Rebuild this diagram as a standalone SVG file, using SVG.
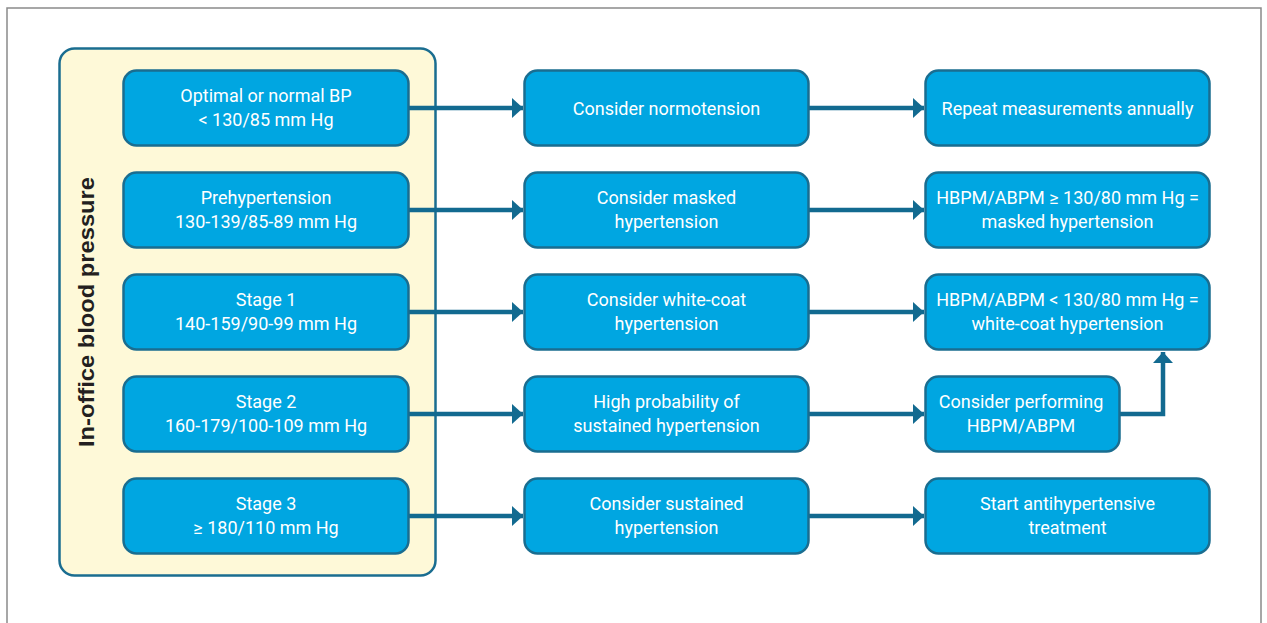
<svg xmlns="http://www.w3.org/2000/svg" width="1267" height="623" viewBox="0 0 1267 623">
  <style>
    .frame { fill: #ffffff; stroke: #8a8a8a; stroke-width: 1.5; }
    .panel { fill: #fef9d8; stroke: #1a6d90; stroke-width: 2.5; }
    .box { fill: #00a6e1; stroke: #1a6d90; stroke-width: 2.5; }
    .lbl { fill: #ffffff; font-family: Roboto, "Liberation Sans", sans-serif; font-size: 18px; text-anchor: middle; }
    .side { fill: #231f20; font-family: "Liberation Sans", Arial, sans-serif; font-weight: bold; font-size: 22px; text-anchor: middle; }
    .conn { fill: none; stroke: #126a90; stroke-width: 4.5; }
  </style>
  <defs>
    <marker id="head" markerUnits="userSpaceOnUse" markerWidth="12" markerHeight="22" refX="11" refY="10" orient="auto">
      <path d="M0,0 L11,10 L0,20 Z" fill="#126a90"/>
    </marker>
  </defs>

  <!-- page frame -->
  <rect class="frame" x="7" y="8" width="1254" height="640"/>

  <!-- in-office blood pressure panel -->
  <g id="panel">
    <rect class="panel" x="59.5" y="48.5" width="376" height="527" rx="15"/>
    <text class="side" transform="translate(94,312) rotate(-90)" textLength="270" lengthAdjust="spacingAndGlyphs">In-office blood pressure</text>
  </g>

  <!-- connectors -->
  <g id="connectors">
    <line class="conn" x1="409" y1="108" x2="523" y2="108" marker-end="url(#head)"/>
    <line class="conn" x1="809" y1="108" x2="924" y2="108" marker-end="url(#head)"/>
    <line class="conn" x1="409" y1="210" x2="523" y2="210" marker-end="url(#head)"/>
    <line class="conn" x1="809" y1="210" x2="924" y2="210" marker-end="url(#head)"/>
    <line class="conn" x1="409" y1="312" x2="523" y2="312" marker-end="url(#head)"/>
    <line class="conn" x1="809" y1="312" x2="924" y2="312" marker-end="url(#head)"/>
    <line class="conn" x1="409" y1="414" x2="523" y2="414" marker-end="url(#head)"/>
    <line class="conn" x1="809" y1="414" x2="924" y2="414" marker-end="url(#head)"/>
    <line class="conn" x1="409" y1="516" x2="523" y2="516" marker-end="url(#head)"/>
    <line class="conn" x1="809" y1="516" x2="924" y2="516" marker-end="url(#head)"/>
    <polyline class="conn" points="1120,414 1163,414 1163,352" marker-end="url(#head)"/>
  </g>

  <!-- in-office categories -->
  <g id="optimal">
    <rect class="box" x="123.5" y="70.5" width="285" height="75" rx="13"/>
    <text class="lbl" x="266" y="102">Optimal or normal BP</text>
    <text class="lbl" x="266" y="126">&lt; 130/85 mm Hg</text>
  </g>
  <g id="prehypertension">
    <rect class="box" x="123.5" y="172.5" width="285" height="75" rx="13"/>
    <text class="lbl" x="266" y="204">Prehypertension</text>
    <text class="lbl" x="266" y="228">130-139/85-89 mm Hg</text>
  </g>
  <g id="stage1">
    <rect class="box" x="123.5" y="274.5" width="285" height="75" rx="13"/>
    <text class="lbl" x="266" y="306">Stage 1</text>
    <text class="lbl" x="266" y="330">140-159/90-99 mm Hg</text>
  </g>
  <g id="stage2">
    <rect class="box" x="123.5" y="376.5" width="285" height="75" rx="13"/>
    <text class="lbl" x="266" y="408">Stage 2</text>
    <text class="lbl" x="266" y="432">160-179/100-109 mm Hg</text>
  </g>
  <g id="stage3">
    <rect class="box" x="123.5" y="478.5" width="285" height="75" rx="13"/>
    <text class="lbl" x="266" y="510">Stage 3</text>
    <text class="lbl" x="266" y="534">≥ 180/110 mm Hg</text>
  </g>

  <!-- interpretation -->
  <g id="normotension">
    <rect class="box" x="524.5" y="70.5" width="284" height="75" rx="13"/>
    <text class="lbl" x="666.5" y="115">Consider normotension</text>
  </g>
  <g id="masked">
    <rect class="box" x="524.5" y="172.5" width="284" height="75" rx="13"/>
    <text class="lbl" x="666.5" y="204">Consider masked</text>
    <text class="lbl" x="666.5" y="228">hypertension</text>
  </g>
  <g id="whitecoat">
    <rect class="box" x="524.5" y="274.5" width="284" height="75" rx="13"/>
    <text class="lbl" x="666.5" y="306">Consider white-coat</text>
    <text class="lbl" x="666.5" y="330">hypertension</text>
  </g>
  <g id="probability">
    <rect class="box" x="524.5" y="376.5" width="284" height="75" rx="13"/>
    <text class="lbl" x="666.5" y="408">High probability of</text>
    <text class="lbl" x="666.5" y="432">sustained hypertension</text>
  </g>
  <g id="sustained">
    <rect class="box" x="524.5" y="478.5" width="284" height="75" rx="13"/>
    <text class="lbl" x="666.5" y="510">Consider sustained</text>
    <text class="lbl" x="666.5" y="534">hypertension</text>
  </g>

  <!-- actions -->
  <g id="repeat">
    <rect class="box" x="925.5" y="70.5" width="284" height="75" rx="13"/>
    <text class="lbl" x="1067.5" y="115">Repeat measurements annually</text>
  </g>
  <g id="masked-result">
    <rect class="box" x="925.5" y="172.5" width="284" height="75" rx="13"/>
    <text class="lbl" x="1067.5" y="204">HBPM/ABPM ≥ 130/80 mm Hg =</text>
    <text class="lbl" x="1067.5" y="228">masked hypertension</text>
  </g>
  <g id="whitecoat-result">
    <rect class="box" x="925.5" y="274.5" width="284" height="75" rx="13"/>
    <text class="lbl" x="1067.5" y="306">HBPM/ABPM &lt; 130/80 mm Hg =</text>
    <text class="lbl" x="1067.5" y="330">white-coat hypertension</text>
  </g>
  <g id="perform">
    <rect class="box" x="925.5" y="376.5" width="194" height="75" rx="13"/>
    <text class="lbl" x="1021" y="408">Consider performing</text>
    <text class="lbl" x="1021" y="432">HBPM/ABPM</text>
  </g>
  <g id="treatment">
    <rect class="box" x="925.5" y="478.5" width="284" height="75" rx="13"/>
    <text class="lbl" x="1067.5" y="510">Start antihypertensive</text>
    <text class="lbl" x="1067.5" y="534">treatment</text>
  </g>
</svg>
